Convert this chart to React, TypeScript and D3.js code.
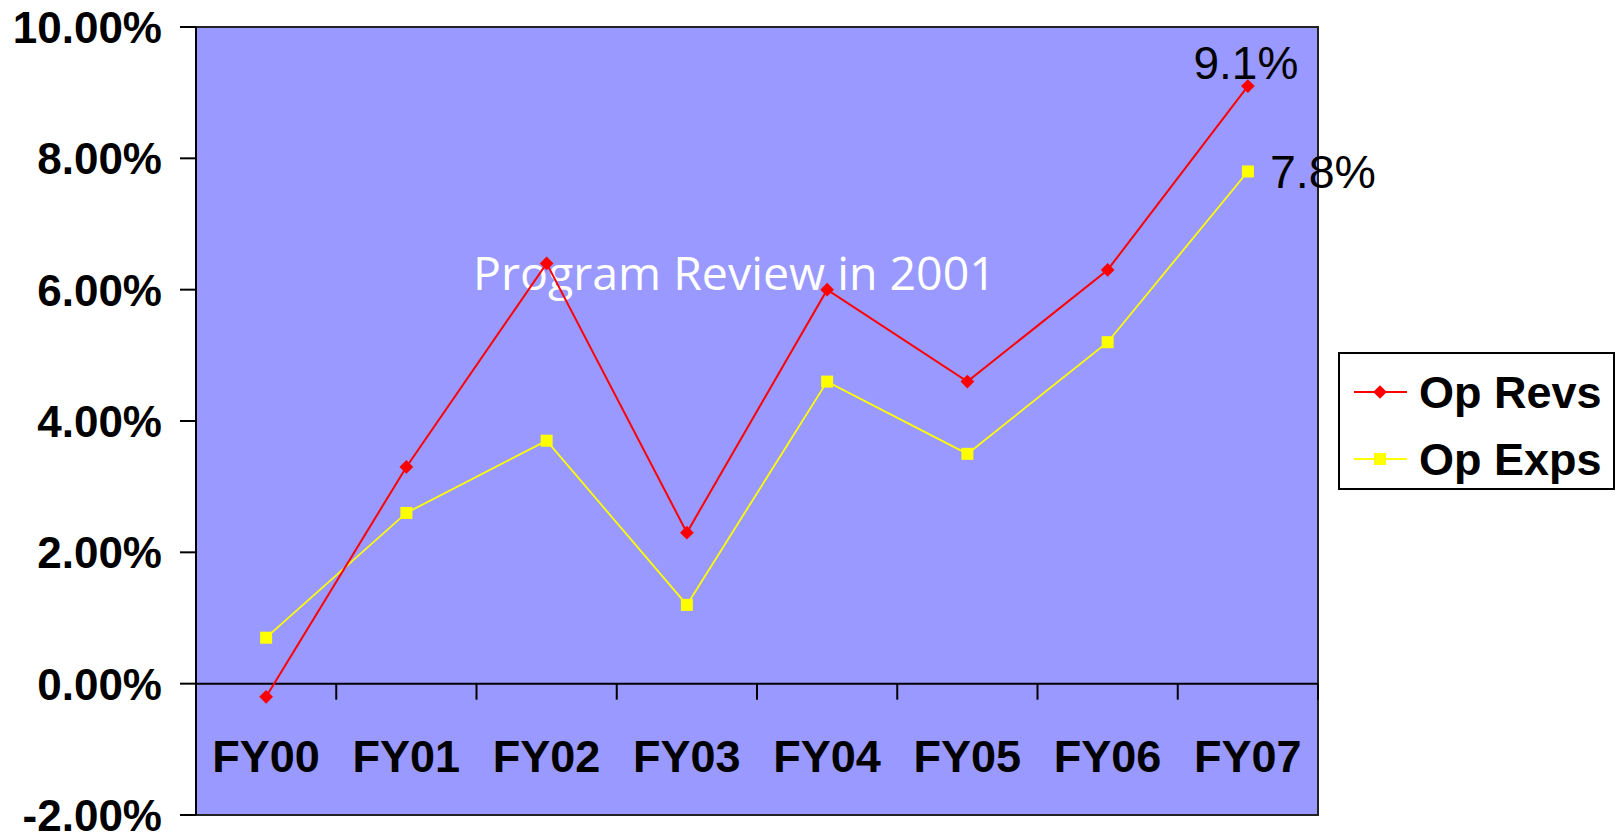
import React from "react";
import * as d3 from "d3";

const categories = ["FY00", "FY01", "FY02", "FY03", "FY04", "FY05", "FY06", "FY07"];
const opRevs = [-0.2, 3.3, 6.4, 2.3, 6.0, 4.6, 6.3, 9.1];
const opExps = [0.7, 2.6, 3.7, 1.2, 4.6, 3.5, 5.2, 7.8];
const yTicks = [-2, 0, 2, 4, 6, 8, 10];
const seriesNames = ["Op Revs", "Op Exps"];

const W = 1621;
const H = 834;
const plot = { left: 196, right: 1318, top: 27, bottom: 815 };
const bold = "'Liberation Sans', Arial, sans-serif";

const App = () => {
  const x = d3.scaleBand().domain(categories).range([plot.left, plot.right]);
  const y = d3.scaleLinear().domain([-2, 10]).range([plot.bottom, plot.top]);
  const cx = (c) => x(c) + x.bandwidth() / 2;
  const line = d3
    .line()
    .x((d) => cx(d[0]))
    .y((d) => y(d[1]));
  const revPts = categories.map((c, i) => [c, opRevs[i]]);
  const expPts = categories.map((c, i) => [c, opExps[i]]);
  // plain hyphen for negatives, like the original
  const fmt = (v) => v.toFixed(2) + "%";
  const y0 = y(0);
  const last = categories[categories.length - 1];

  return (
    <svg
      width={W}
      height={H}
      style={{ position: "absolute", left: 0, top: 0, background: "#fff" }}
    >
      <rect
        x={plot.left}
        y={plot.top}
        width={plot.right - plot.left}
        height={plot.bottom - plot.top}
        fill="#9999FF"
        stroke="#222"
        strokeWidth={2}
      />

      {/* y axis */}
      <line x1={plot.left} x2={plot.left} y1={plot.top} y2={plot.bottom} stroke="#000" strokeWidth={2} />
      {yTicks.map((t) => (
        <g key={t}>
          <line x1={plot.left - 16} x2={plot.left} y1={y(t)} y2={y(t)} stroke="#000" strokeWidth={2} />
          <text
            x={162}
            y={y(t)}
            dy="0.36em"
            textAnchor="end"
            fontFamily={bold}
            fontWeight="bold"
            fontSize={44}
          >
            {fmt(t)}
          </text>
        </g>
      ))}

      {/* x axis on zero line */}
      <line x1={plot.left} x2={plot.right} y1={y0} y2={y0} stroke="#000" strokeWidth={2} />
      {categories.map((c) => (
        <g key={c}>
          <line
            x1={x(c) + x.bandwidth()}
            x2={x(c) + x.bandwidth()}
            y1={y0}
            y2={y0 + 16}
            stroke="#000"
            strokeWidth={2}
          />
          <text
            x={cx(c)}
            y={772}
            textAnchor="middle"
            fontFamily={bold}
            fontWeight="bold"
            fontSize={45}
          >
            {c}
          </text>
        </g>
      ))}

      <text x={473} y={290} fill="#fff" fontFamily="'Open Sans', sans-serif" fontSize={46.5}>
        Program Review in 2001
      </text>

      {/* series */}
      <path d={line(expPts)} fill="none" stroke="#FFFF00" strokeWidth={1.8} />
      <path d={line(revPts)} fill="none" stroke="#FF0000" strokeWidth={2} />
      {expPts.map((d) => (
        <rect key={d[0]} x={cx(d[0]) - 6} y={y(d[1]) - 6} width={12} height={12} fill="#FFFF00" />
      ))}
      {revPts.map((d) => (
        <path
          key={d[0]}
          d={d3.symbol(d3.symbolDiamond2, 120)()}
          transform={`translate(${cx(d[0])},${y(d[1])})`}
          fill="#FF0000"
        />
      ))}

      {/* end labels */}
      <text x={cx(last) - 2} y={y(opRevs[7]) - 7} textAnchor="middle" fontFamily={bold} fontSize={46}>
        {opRevs[7].toFixed(1)}%
      </text>
      <text x={cx(last) + 22} y={y(opExps[7])} dy="0.36em" fontFamily={bold} fontSize={46.5}>
        {opExps[7].toFixed(1)}%
      </text>

      {/* legend */}
      <rect x={1339} y={353} width={275} height={136} fill="#fff" stroke="#000" strokeWidth={2} />
      {seriesNames.map((n, i) => {
        const ly = 392 + i * 67;
        const col = i === 0 ? "#FF0000" : "#FFFF00";
        return (
          <g key={n}>
            <line x1={1354} x2={1407} y1={ly} y2={ly} stroke={col} strokeWidth={2} />
            {i === 0 ? (
              <path d={d3.symbol(d3.symbolDiamond2, 120)()} transform={`translate(1380,${ly})`} fill={col} />
            ) : (
              <rect x={1374} y={ly - 6} width={12} height={12} fill={col} />
            )}
            <text x={1419} y={ly} dy="0.36em" fontFamily={bold} fontWeight="bold" fontSize={45}>
              {n}
            </text>
          </g>
        );
      })}
    </svg>
  );
};

export default App;
